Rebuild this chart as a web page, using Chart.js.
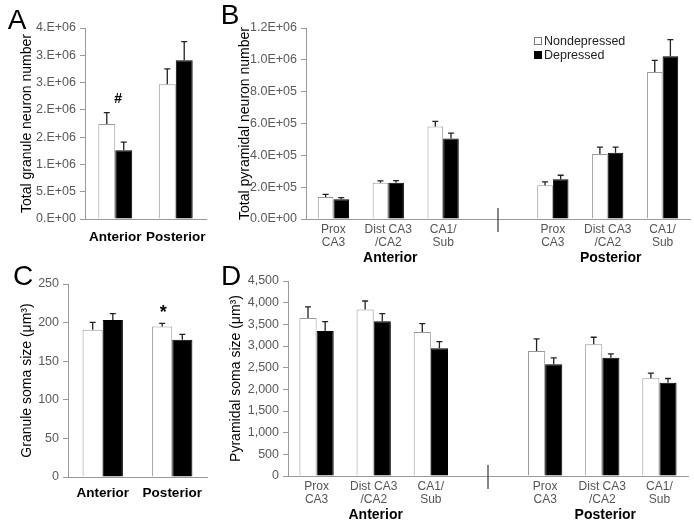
<!DOCTYPE html>
<html>
<head>
<meta charset="utf-8">
<script src="https://cdn.jsdelivr.net/npm/chart.js@4.4.0/dist/chart.umd.min.js"></script>
<style>
  body { margin: 0; background: #fff; width: 694px; height: 526px; position: relative; overflow: hidden; }
  canvas { position: absolute; left: 0; top: 0; }
</style>
</head>
<body>
<canvas id="chartA" width="694" height="526"></canvas>
<canvas id="chartB" width="694" height="526"></canvas>
<canvas id="chartC" width="694" height="526"></canvas>
<canvas id="chartD" width="694" height="526"></canvas>
<script>
// --- data ---
const seriesNames = ["Nondepressed", "Depressed"];

// A: total granule neuron number
const aCategories = ["Anterior", "Posterior"];
const aNondep = [1.74e6, 2.47e6];
const aNondepSem = [2.1e5, 2.8e5];
const aDep = [1.26e6, 2.91e6];
const aDepSem = [1.5e5, 3.4e5];
const aTicks = ["0.E+00", "5.E+05", "1.E+06", "2.E+06", "2.E+06", "3.E+06", "3.E+06", "4.E+06"];

// B: total pyramidal neuron number (slot 3 is the anterior/posterior divider)
const subfields = [["Prox", "CA3"], ["Dist CA3", "/CA2"], ["CA1/", "Sub"], "", ["Prox", "CA3"], ["Dist CA3", "/CA2"], ["CA1/", "Sub"]];
const regionNames = ["Anterior", "Posterior"];
const bNondep = [1.38e5, 2.27e5, 5.81e5, null, 2.12e5, 4.09e5, 9.23e5];
const bNondepSem = [1.7e4, 1.2e4, 3.2e4, null, 2.1e4, 4.2e4, 7.4e4];
const bDep = [1.24e5, 2.27e5, 5.06e5, null, 2.50e5, 4.17e5, 1.022e6];
const bDepSem = [1.0e4, 1.4e4, 3.3e4, null, 2.5e4, 3.4e4, 1.05e5];
const bTicks = ["0.0E+00", "2.0E+05", "4.0E+05", "6.0E+05", "8.0E+05", "1.0E+06", "1.2E+06"];

// C: granule soma size
const cCategories = ["Anterior", "Posterior"];
const cNondep = [190.7, 195];
const cNondepSem = [9.6, 4];
const cDep = [203.3, 177.8];
const cDepSem = [8.2, 6.9];
const cTicks = ["0", "50", "100", "150", "200", "250"];

// D: pyramidal soma size
const dNondep = [3648, 3840, 3325, null, 2887, 3041, 2258];
const dNondepSem = [253, 199, 192, null, 277, 161, 115];
const dDep = [3348, 3571, 2949, null, 2580, 2726, 2150];
const dDepSem = [215, 176, 153, null, 146, 92, 100];
const dTicks = ["0", "500", "1,000", "1,500", "2,000", "2,500", "3,000", "3,500", "4,000", "4,500"];

// --- drawing ---
const FONT = "'Liberation Sans', Arial, sans-serif";
Chart.defaults.font.family = FONT;
Chart.defaults.animation = false;

function text(ctx, str, x, y, font, color, align) {
  ctx.save();
  ctx.font = font;
  ctx.fillStyle = color || "#000";
  ctx.textAlign = align || "center";
  ctx.textBaseline = "middle";
  ctx.fillText(str, x, y);
  ctx.restore();
}

const errorBars = {
  id: "errorBars",
  afterDatasetsDraw(chart) {
    const ctx = chart.ctx, y = chart.scales.y;
    chart.data.datasets.forEach((ds, i) => {
      chart.getDatasetMeta(i).data.forEach((bar, j) => {
        const v = ds.data[j], e = ds.sem[j];
        if (v == null || e == null) return;
        const top = y.getPixelForValue(v + e);
        ctx.save();
        ctx.strokeStyle = "#222";
        ctx.lineWidth = 1.3;
        ctx.beginPath();
        ctx.moveTo(bar.x, bar.y);
        ctx.lineTo(bar.x, top);
        ctx.moveTo(bar.x - 3, top);
        ctx.lineTo(bar.x + 3, top);
        ctx.stroke();
        ctx.restore();
      });
    });
  }
};

function makePanel(id, p) {
  const W = 694, H = 526, xH = 40;
  return new Chart(document.getElementById(id), {
    type: "bar",
    data: {
      labels: p.labels,
      datasets: [
        { label: seriesNames[0], data: p.nondep, sem: p.nondepSem, backgroundColor: "#fff", borderColor: "#999", borderWidth: 1 },
        { label: seriesNames[1], data: p.dep, sem: p.depSem, backgroundColor: "#000", borderColor: "#000", borderWidth: 1 }
      ]
    },
    options: {
      responsive: false,
      layout: { padding: { left: 0, top: p.area.top, right: W - p.area.right, bottom: H - p.area.bottom - xH } },
      datasets: { bar: { barPercentage: 1, categoryPercentage: p.catPct } },
      plugins: { legend: { display: false }, tooltip: { enabled: false } },
      scales: {
        x: {
          afterFit: (s) => { s.height = xH; },
          grid: { display: false, drawTicks: false },
          border: { display: true, color: "#999", width: 1 },
          ticks: { color: p.catColor, padding: p.catPad, maxRotation: 0, autoSkip: false, font: p.catFont }
        },
        y: {
          min: 0, max: p.yMax,
          afterFit: (s) => { s.width = p.area.left; },
          grid: { drawOnChartArea: false, drawTicks: true, tickLength: 5, color: "#999" },
          border: { display: true, color: "#999", width: 1 },
          ticks: { stepSize: p.yStep, color: "#595959", padding: 4, font: { size: 12.5 },
                   callback: (v, i) => p.yTicks[i] },
          title: { display: true, text: p.yTitle, color: "#000", font: { size: 14 }, padding: { top: p.titleX - 8.4, bottom: 0 } }
        }
      }
    },
    plugins: [errorBars, { id: "extras", afterDraw: (chart) => p.extras(chart, chart.ctx) }]
  });
}

function divider(chart, ctx, idx) {
  const x = chart.scales.x.getPixelForValue(idx), b = chart.chartArea.bottom;
  ctx.save();
  ctx.strokeStyle = "#444";
  ctx.lineWidth = 1.3;
  ctx.beginPath();
  ctx.moveTo(x, b - 11);
  ctx.lineTo(x, b + 13);
  ctx.stroke();
  ctx.restore();
}

function regionLabels(chart, ctx, dy) {
  const xs = chart.scales.x, b = chart.chartArea.bottom;
  text(ctx, regionNames[0], xs.getPixelForValue(1) + 2, b + dy, "bold 14px " + FONT, "#000");
  text(ctx, regionNames[1], xs.getPixelForValue(5) + 3, b + dy, "bold 14px " + FONT, "#000");
}

makePanel("chartA", {
  area: { left: 85, top: 28, right: 206, bottom: 219 },
  labels: aCategories, nondep: aNondep, nondepSem: aNondepSem, dep: aDep, depSem: aDepSem,
  yMax: 3.5e6, yStep: 5e5, yTicks: aTicks, yTitle: "Total granule neuron number", titleX: 27,
  catPct: 0.56, catColor: "#000", catPad: 10, catFont: { size: 13.5, weight: "bold" },
  extras(chart, ctx) {
    text(ctx, "A", 17, 21, "28px " + FONT, "#000");
    const x = chart.scales.x.getPixelForValue(0);
    const y = chart.scales.y.getPixelForValue(aNondep[0] + aNondepSem[0]);
    text(ctx, "#", x + 3, y - 13, "bold 14px " + FONT, "#000");
  }
});

makePanel("chartB", {
  area: { left: 306, top: 28, right: 690, bottom: 219 },
  labels: subfields, nondep: bNondep, nondepSem: bNondepSem, dep: bDep, depSem: bDepSem,
  yMax: 1.2e6, yStep: 2e5, yTicks: bTicks, yTitle: "Total pyramidal neuron number", titleX: 245,
  catPct: 0.57, catColor: "#555", catPad: 4, catFont: { size: 12, lineHeight: 1.1 },
  extras(chart, ctx) {
    text(ctx, "B", 230, 16, "28px " + FONT, "#000");
    divider(chart, ctx, 3);
    regionLabels(chart, ctx, 39);
    ctx.save();
    ctx.fillStyle = "#fff"; ctx.strokeStyle = "#777"; ctx.lineWidth = 1;
    ctx.fillRect(534.5, 37.5, 7, 7); ctx.strokeRect(534.5, 37.5, 7, 7);
    ctx.fillStyle = "#000"; ctx.fillRect(534, 51, 8, 8);
    ctx.restore();
    text(ctx, seriesNames[0], 544, 41.5, "12.5px " + FONT, "#222", "left");
    text(ctx, seriesNames[1], 544, 55.5, "12.5px " + FONT, "#222", "left");
  }
});

makePanel("chartC", {
  area: { left: 68, top: 284, right: 207, bottom: 477 },
  labels: cCategories, nondep: cNondep, nondepSem: cNondepSem, dep: cDep, depSem: cDepSem,
  yMax: 250, yStep: 50, yTicks: cTicks, yTitle: "Granule soma size (\u03bcm\u00b3)", titleX: 27,
  catPct: 0.58, catColor: "#000", catPad: 8, catFont: { size: 13.5, weight: "bold" },
  extras(chart, ctx) {
    text(ctx, "C", 23, 277, "28px " + FONT, "#000");
    const bar = chart.getDatasetMeta(0).data[1];
    const y = chart.scales.y.getPixelForValue(cNondep[1] + cNondepSem[1]);
    text(ctx, "*", bar.x + 1, y - 10, "bold 18px " + FONT, "#000");
  }
});

makePanel("chartD", {
  area: { left: 288, top: 281, right: 688, bottom: 476 },
  labels: subfields, nondep: dNondep, nondepSem: dNondepSem, dep: dDep, depSem: dDepSem,
  yMax: 4500, yStep: 500, yTicks: dTicks, yTitle: "Pyramidal soma size (\u03bcm\u00b3)", titleX: 236,
  catPct: 0.6, catColor: "#555", catPad: 4, catFont: { size: 12, lineHeight: 1.1 },
  extras(chart, ctx) {
    text(ctx, "D", 231, 277, "28px " + FONT, "#000");
    divider(chart, ctx, 3);
    regionLabels(chart, ctx, 39);
  }
});
</script>
</body>
</html>
